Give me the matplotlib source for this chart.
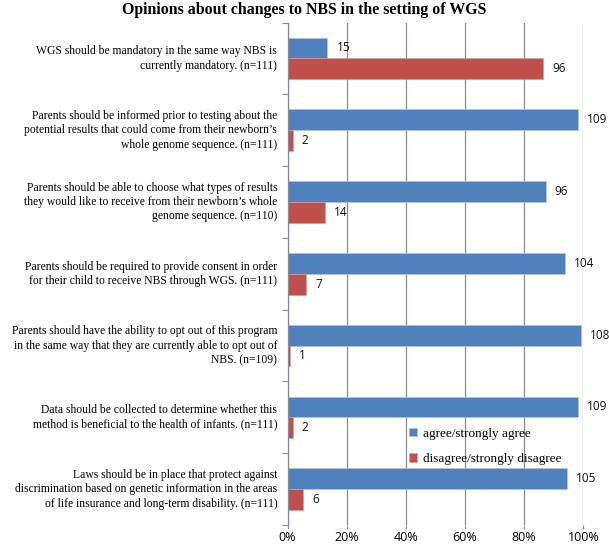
import matplotlib
matplotlib.use("Agg")
import matplotlib.pyplot as plt
import numpy as np

title = "Opinions about changes to NBS in the setting of WGS"
statements = [
    "WGS should be mandatory in the same way NBS is\ncurrently mandatory. (n=111)",
    "Parents should be informed prior to testing about the\npotential results that could come from their newborn\u2019s\nwhole genome sequence. (n=111)",
    "Parents should be able to choose what types of results\nthey would like to receive from their newborn\u2019s whole\ngenome sequence. (n=110)",
    "Parents should be required to provide consent in order\nfor their child to receive NBS through WGS. (n=111)",
    "Parents should have the ability to opt out of this program\nin the same way that they are currently able to opt out of\nNBS. (n=109)",
    "Data should be collected to determine whether this\nmethod is beneficial to the health of infants. (n=111)",
    "Laws should be in place that protect against\ndiscrimination based on genetic information in the areas\nof life insurance and long-term disability. (n=111)",
]
n_resp = [111, 111, 110, 111, 109, 111, 111]
agree = [15, 109, 96, 104, 108, 109, 105]
disagree = [96, 2, 14, 7, 1, 2, 6]
series_names = ["agree/strongly agree", "disagree/strongly disagree"]
xtick_vals = [0, 20, 40, 60, 80, 100]
xtick_labels = ["0%", "20%", "40%", "60%", "80%", "100%"]

blue = "#4F81BD"
red = "#C0504D"
grid_c = "#8a8a96"

fig = plt.figure(figsize=(6.09, 5.47), dpi=100)
ax = fig.add_axes([287.5/609, 22/547, (583.3-287.5)/609, (525-22.5)/547])

k = len(statements)
pos = np.arange(k)  # group index, top to bottom
h = 0.29
agree_pct = np.array(agree) / np.array(n_resp) * 100
dis_pct = np.array(disagree) / np.array(n_resp) * 100

b1 = ax.barh(pos - h/2, agree_pct, height=h, color=blue, edgecolor="#a9c3e3", linewidth=0.6,
             label=series_names[0], zorder=3)
b2 = ax.barh(pos + h/2, dis_pct, height=h, color=red, edgecolor="#d89a98", linewidth=0.4,
             label=series_names[1], zorder=3)

for rects, vals in ((b1, agree), (b2, disagree)):
    for r, v in zip(rects, vals):
        ax.annotate(str(v), (r.get_width(), r.get_y() + r.get_height()/2),
                    xytext=(6.5, 0), textcoords="offset points", va="center", ha="left",
                    fontsize=8.5, family="Open Sans", color="#111111", annotation_clip=False)

ax.set_xlim(0, 100)
ax.set_ylim(k - 0.5, -0.5)
ax.set_xticks(xtick_vals)
ax.set_xticklabels(xtick_labels, family="Open Sans", fontsize=9)
ax.set_yticks(np.arange(k + 1) - 0.5)
ax.set_yticklabels([])
ax.tick_params(axis="y", length=4, color=grid_c, width=0.8)
ax.tick_params(axis="x", length=3, color=grid_c, width=0.8, pad=1.5)
for y, s in zip(pos, statements):
    ax.text(-3.5, y, s, ha="right", va="center", fontsize=8.4, family="Liberation Serif",
            linespacing=1.27, transform=ax.transData)

ax.grid(axis="x", color=grid_c, linewidth=0.9, zorder=0)
for sp in ["top", "right", "bottom"]:
    ax.spines[sp].set_visible(False)
ax.spines["left"].set_color(grid_c)
ax.spines["left"].set_linewidth(0.9)
ax.spines["left"].set_zorder(4)

leg = fig.legend(handles=[b1, b2], loc="upper left", bbox_to_anchor=(397/609, 1 - 416/547),
                 frameon=False, prop={"family": "Liberation Serif", "size": 9.5},
                 handlelength=0.6, handleheight=0.6, handletextpad=0.5, labelspacing=1.0)

fig.text(0.5, 1 - 10/547, title, ha="center", va="center", fontsize=11.4,
         fontweight="bold", family="Liberation Serif")

fig.savefig("out.png", dpi=100)
